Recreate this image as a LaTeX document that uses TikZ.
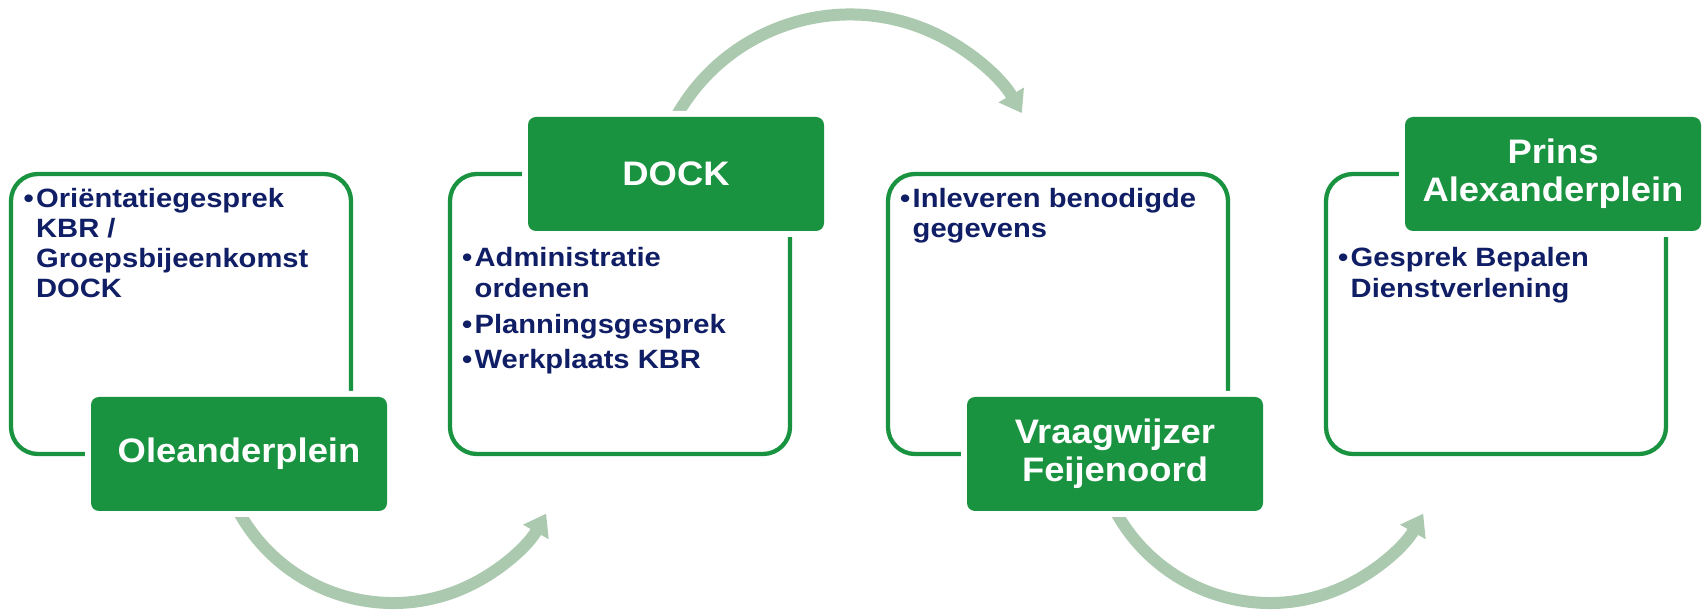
\documentclass[tikz,border=0pt]{standalone}
\usepackage{fontspec}
\setmainfont{Liberation Sans}
\newfontfamily\bodyfont[FakeStretch=1.1]{Liberation Sans}
\newfontfamily\labfont[FakeStretch=1.07]{Liberation Sans}
\usetikzlibrary{arrows.meta,calc}
\definecolor{boxgreen}{RGB}{26,147,64}
\definecolor{navy}{RGB}{16,30,102}
\definecolor{flowgreen}{RGB}{170,201,174}
\newcommand\bitem[1]{\hbox{\makebox[12.5pt][l]{\textbullet}#1}}
\newcommand\bcont[1]{\hbox{\kern12.5pt #1}}
\begin{document}
\begin{tikzpicture}[x=1pt,y=1pt,
  outlinebox/.style={draw=boxgreen, line width=4.3pt, rounded corners=27pt,
    minimum width=340pt, minimum height=280pt, inner sep=0pt},
  labelbox/.style={fill=boxgreen, rounded corners=8pt, minimum width=296pt,
    minimum height=114pt, inner sep=0pt, text=white, align=center,
    font=\labfont\bfseries\fontsize{34}{38}\selectfont,
    preaction={draw=white, line width=12pt}},
  bullettext/.style={anchor=base west, inner sep=0pt, text=navy,
    font=\bodyfont\bfseries\fontsize{26.5}{30}\selectfont},
  flow/.style={draw=flowgreen, line width=12pt, -{Triangle[length=21pt,width=28pt]}}
]
\useasboundingbox (0,0) rectangle (1702,610);

% outline boxes
\node[outlinebox] (o1) at (181,296) {};
\node[outlinebox] (o2) at (620,296) {};
\node[outlinebox] (o3) at (1058,296) {};
\node[outlinebox] (o4) at (1496,296) {};

% flow arcs
\coordinate (c1) at (393,183);
\coordinate (c2) at (850,396.5);
\coordinate (c3) at (1270,183);
\draw[flow] ([shift={(205:176)}]c1) arc[start angle=205,end angle=330.5,radius=176];
\draw[flow] ([shift={(155:199)}]c2) arc[start angle=155,end angle=30.3,radius=199];
\draw[flow] ([shift={(205:176)}]c3) arc[start angle=205,end angle=330.5,radius=176];

% label boxes
\node[labelbox] (g1) at (239,156) {Oleanderplein};
\node[labelbox] (g2) at (676,436) {DOCK};
\node[labelbox] (g3) at (1115,156) {Vraagwijzer\\Feijenoord};
\node[labelbox] (g4) at (1553,436) {Prins\\Alexanderplein};

% bullet texts
\node[bullettext] (t1) at (23.5,402) {\vtop{\baselineskip=30pt
  \bitem{Oriëntatiegesprek}\bcont{KBR /}\bcont{Groepsbijeenkomst}\bcont{DOCK}}};
\node[bullettext] (t2) at (462,343) {\vtop{\baselineskip=31pt
  \bitem{Administratie}\bcont{ordenen}\vskip4.5pt
  \bitem{Planningsgesprek}\vskip4.5pt
  \bitem{Werkplaats KBR}}};
\node[bullettext] (t3) at (900,402) {\vtop{\baselineskip=30pt
  \bitem{Inleveren benodigde}\bcont{gegevens}}};
\node[bullettext] (t4) at (1338,343) {\vtop{\baselineskip=31pt
  \bitem{Gesprek Bepalen}\bcont{Dienstverlening}}};
\end{tikzpicture}
\end{document}
